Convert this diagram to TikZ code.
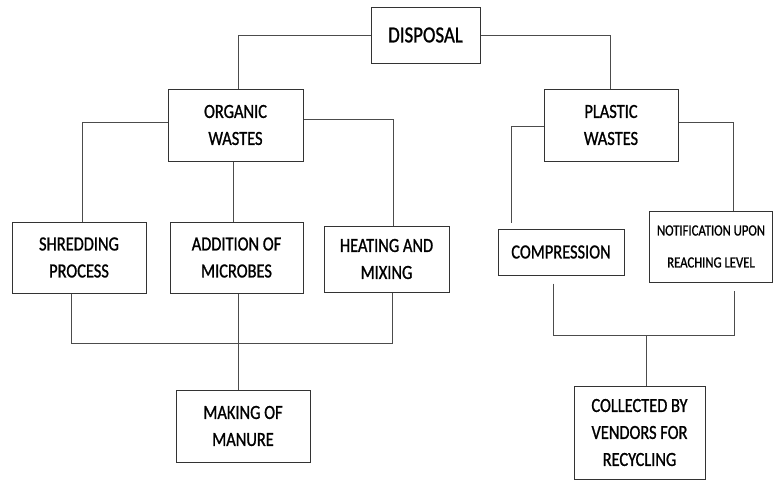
\documentclass[tikz,border=0pt]{standalone}
\usepackage{fontspec}
\setmainfont{Carlito}[FakeStretch=0.82,FakeBold=1]
\usetikzlibrary{calc}
\begin{document}
\begin{tikzpicture}[x=1pt,y=-1pt,
  box/.style={draw=black!80, line width=1pt, fill=white, align=center, inner sep=0pt,
    font=\fontsize{20}{27}\selectfont},
  link/.style={draw=black!70, line width=0.9pt}]
\useasboundingbox (0,0) rectangle (775,482);

% boxes
\node[box, minimum width=109, minimum height=56, font=\fontsize{23}{27}\selectfont]
  (disp) at (425.5,35) {DISPOSAL};
\node[box, minimum width=135, minimum height=72] (org) at (235.5,125) {ORGANIC\\WASTES};
\node[box, minimum width=134, minimum height=72] (pla) at (611,125) {PLASTIC\\WASTES};
\node[box, minimum width=134, minimum height=71] (shr) at (79,257.5) {SHREDDING\\PROCESS};
\node[box, minimum width=133, minimum height=71] (add) at (236.5,257.5) {ADDITION OF\\MICROBES};
\node[box, minimum width=125, minimum height=66] (heat) at (386.5,259) {HEATING AND\\MIXING};
\node[box, minimum width=126, minimum height=46] (comp) at (561,252) {COMPRESSION};
\node[box, minimum width=123, minimum height=71, font=\fontsize{15.5}{32}\selectfont]
  (notif) at (711,246.5) {NOTIFICATION UPON\\REACHING LEVEL};
\node[box, minimum width=134, minimum height=72] (mak) at (243,426) {MAKING OF\\MANURE};
\node[box, minimum width=131, minimum height=93] (col) at (639.5,432.5) {COLLECTED BY\\VENDORS FOR\\RECYCLING};

% disposal to the two kinds of waste
\draw[link] (disp.west) -| ([xshift=2.5]org.north);
\draw[link] (disp.east) -| ([xshift=-1]pla.north);

% organic branch
\draw[link] ([yshift=3]org.west) -| ([xshift=3]shr.north);
\draw[link] ([yshift=6]org.east) -| ([xshift=6.5]heat.north);
\draw[link] ([xshift=-2.5]org.south) -- ([xshift=-3.5]add.north);
\draw[link] ([xshift=-8]shr.south) -- ++(0,50) -| ([xshift=5.5]heat.south);
\draw[link] ([xshift=1.5]add.south) -- ([xshift=1.5]add.south |- mak.north);

% plastic branch
\draw[link] ([yshift=-1]pla.west) -| ($(comp.north west)+(14,-6)$);
\draw[link] ([yshift=3]pla.east) -| ([xshift=22]notif.north);
\coordinate (cl) at ($(comp.south)+(-8,8)$);
\coordinate (nr) at ($(notif.south)+(23,8)$);
\draw[link] (cl) -- ++(0,52) coordinate (jl) -| (nr);
\draw[link] (jl -| col.north) ++(6.5,0) -- ([xshift=6.5]col.north);
\end{tikzpicture}
\end{document}
